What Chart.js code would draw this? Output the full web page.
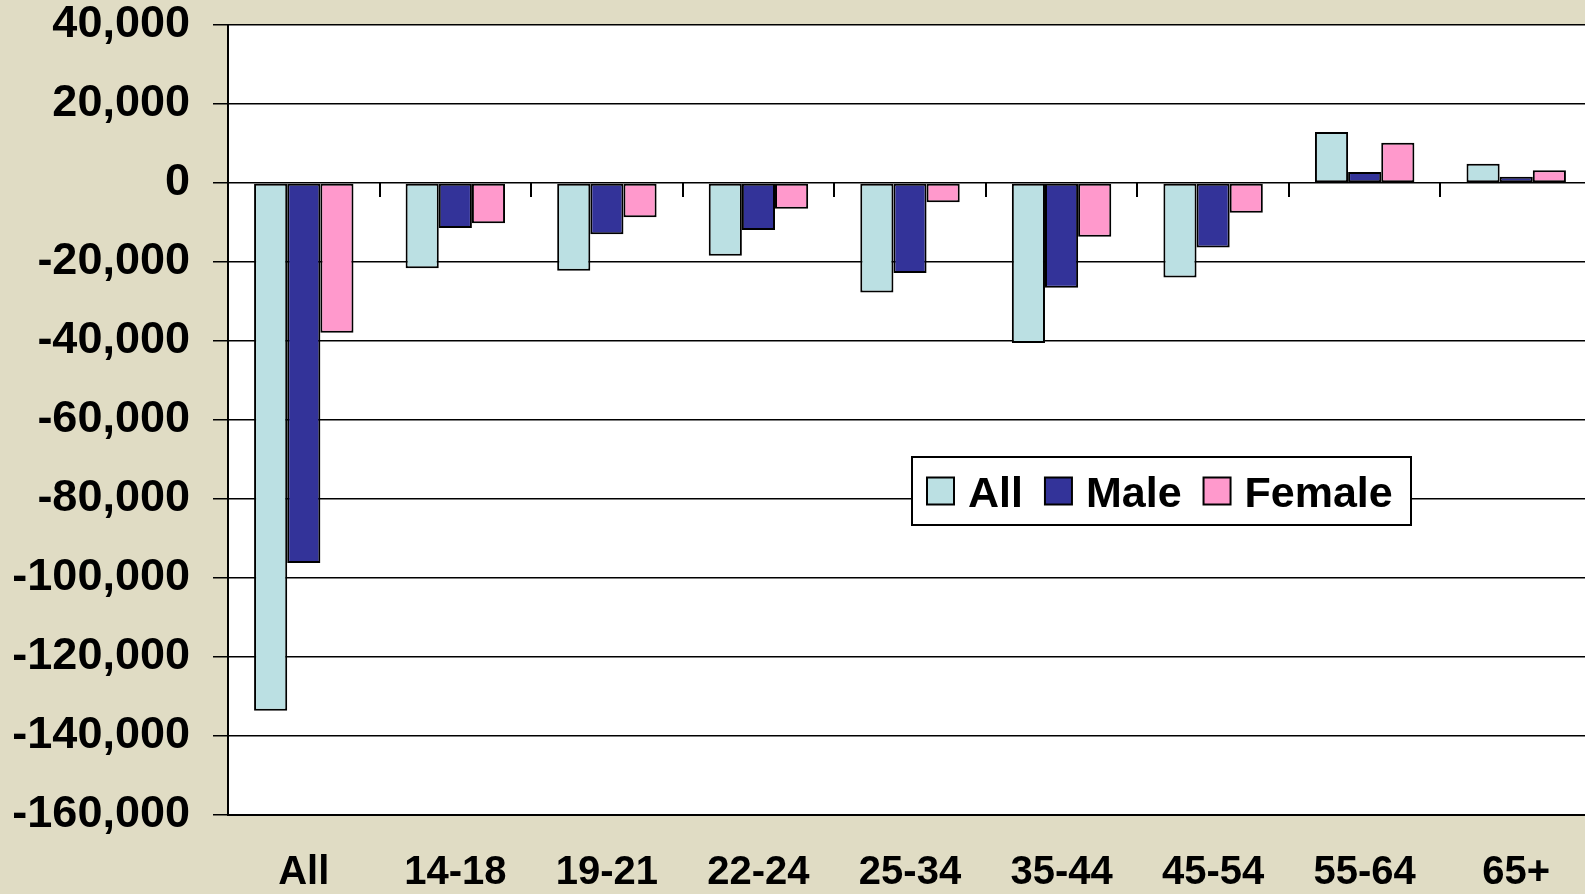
<!DOCTYPE html>
<html>
<head>
<meta charset="utf-8">
<script src="https://cdn.jsdelivr.net/npm/chart.js@4/dist/chart.umd.min.js"></script>
<style>
  html, body { margin: 0; padding: 0; background: #E0DCC4; overflow: hidden; }
  #wrap { position: absolute; left: 0; top: 0; width: 1592px; height: 894px; }
</style>
</head>
<body>
<div id="wrap"><canvas id="c"></canvas></div>
<script>
const categories = ['All', '14-18', '19-21', '22-24', '25-34', '35-44', '45-54', '55-64', '65+'];
const seriesNames = ['All', 'Male', 'Female'];
const allValues = [-133600, -21600, -22200, -18400, -27700, -40500, -23900, 12900, 4900];
const maleValues = [-96200, -11400, -13000, -11900, -22800, -26500, -16300, 2800, 1600];
const femaleValues = [-37900, -10200, -8700, -6500, -4900, -13600, -7500, 10200, 3200];
const yMin = -160000;
const yMax = 40000;
const yStep = 20000;

const colors = ['#BBE0E3', '#333399', '#FF99CC'];
const FONT = '"Liberation Sans", Arial, sans-serif';

const bgPlugin = {
  id: 'bgPlugin',
  beforeDraw(chart) {
    const { ctx, chartArea: a } = chart;
    ctx.save();
    ctx.fillStyle = '#E0DCC4';
    ctx.fillRect(0, 0, chart.width, chart.height);
    ctx.fillStyle = '#FFFFFF';
    ctx.fillRect(a.left, a.top, a.right - a.left, a.bottom - a.top);
    ctx.restore();
  }
};

const zeroTicks = {
  id: 'zeroTicks',
  afterDatasetsDraw(chart) {
    const { ctx } = chart;
    const xs = chart.scales.x, ys = chart.scales.y;
    const y0 = ys.getPixelForValue(0);
    ctx.save();
    ctx.strokeStyle = '#000';
    ctx.lineWidth = 2;
    for (let i = 1; i < categories.length; i++) {
      const x = Math.round((xs.getPixelForValue(i - 1) + xs.getPixelForValue(i)) / 2);
      ctx.beginPath();
      ctx.moveTo(x, y0);
      ctx.lineTo(x, y0 + 14);
      ctx.stroke();
    }
    ctx.restore();
  }
};

const boxLegend = {
  id: 'boxLegend',
  afterDraw(chart, args, o) {
    const { ctx } = chart;
    ctx.save();
    ctx.fillStyle = '#FFFFFF';
    ctx.fillRect(o.x, o.y, o.w, o.h);
    ctx.strokeStyle = '#000';
    ctx.lineWidth = 2;
    ctx.strokeRect(o.x, o.y, o.w, o.h);
    ctx.font = 'bold ' + o.fontSize + 'px ' + FONT;
    ctx.textBaseline = 'alphabetic';
    let x = o.x + o.padLeft;
    const cy = o.y + o.h / 2;
    chart.data.datasets.forEach((ds) => {
      ctx.fillStyle = ds.backgroundColor;
      ctx.fillRect(x, cy - o.box / 2, o.box, o.box);
      ctx.lineWidth = 2;
      ctx.strokeStyle = '#000';
      ctx.strokeRect(x, cy - o.box / 2, o.box, o.box);
      x += o.box + o.gap;
      ctx.fillStyle = '#000';
      ctx.fillText(ds.label, x, cy + o.baselineOffset);
      x += ctx.measureText(ds.label).width + o.itemGap;
    });
    ctx.restore();
  }
};

const mk = (label, data, color) => ({
  label, data,
  backgroundColor: color,
  borderColor: '#000',
  borderWidth: 2,
  borderSkipped: false,
  categoryPercentage: 0.656,
  barPercentage: 1.0
});

new Chart(document.getElementById('c'), {
  type: 'bar',
  data: {
    labels: categories,
    datasets: [
      mk(seriesNames[0], allValues, colors[0]),
      mk(seriesNames[1], maleValues, colors[1]),
      mk(seriesNames[2], femaleValues, colors[2])
    ]
  },
  plugins: [bgPlugin, zeroTicks, boxLegend],
  options: {
    responsive: true,
    maintainAspectRatio: false,
    animation: false,
    layout: { padding: { top: 25, right: 0, left: 0, bottom: 0 } },
    plugins: {
      legend: { display: false },
      tooltip: { enabled: false },
      boxLegend: { x: 912, y: 457, w: 499, h: 68, box: 27, gap: 14, itemGap: 22, padLeft: 15, fontSize: 43, baselineOffset: 16 }
    },
    scales: {
      x: {
        grid: { display: false, drawTicks: false },
        border: { display: true, color: '#000', width: 2 },
        ticks: {
          color: '#000',
          font: { family: FONT, size: 40, weight: 'bold', lineHeight: 1.2 },
          padding: 34,
          maxRotation: 0,
          autoSkip: false
        },
        afterFit(scale) { scale.height = 79; scale.paddingLeft = 0; scale.paddingRight = 0; }
      },
      y: {
        min: yMin,
        max: yMax,
        ticks: {
          stepSize: yStep,
          color: '#000',
          font: { family: FONT, size: 45, weight: 'bold', lineHeight: 1 },
          padding: 23,
          callback: (v) => Number(v).toLocaleString('en-US')
        },
        grid: { color: '#000', lineWidth: 1.5, tickLength: 15, drawTicks: true },
        border: { display: true, color: '#000', width: 2 },
        afterFit(scale) { scale.width = 228; scale.paddingTop = 0; scale.paddingBottom = 0; }
      }
    }
  }
});
</script>
</body>
</html>
